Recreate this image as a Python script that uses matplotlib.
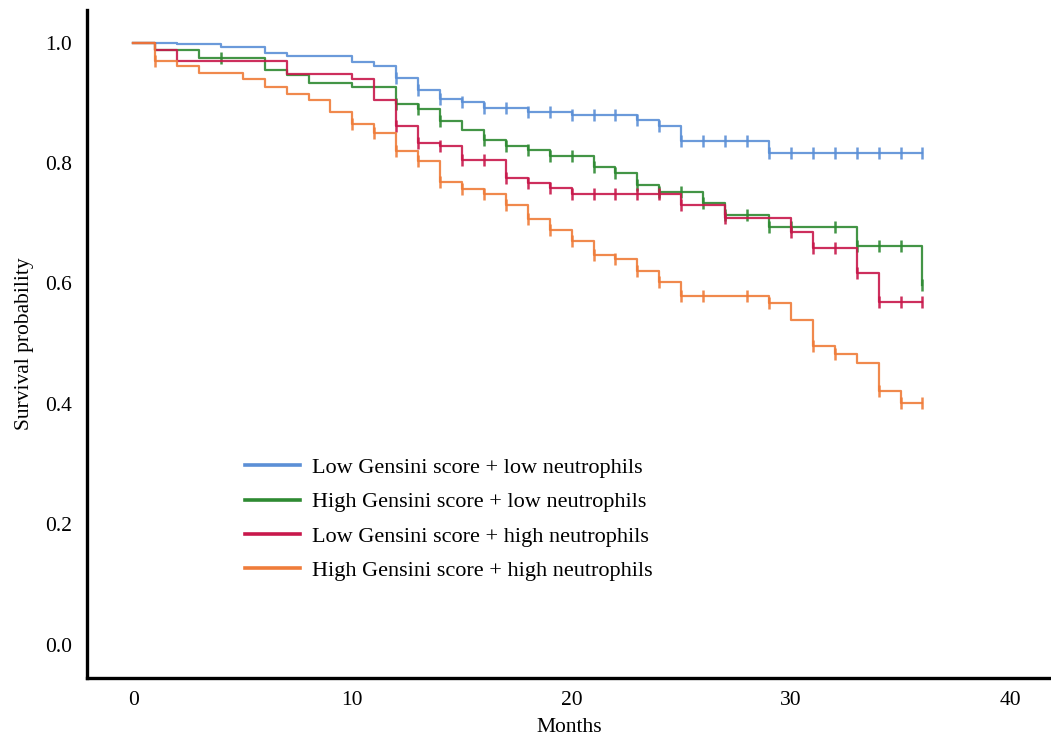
import matplotlib
matplotlib.use('Agg')
import matplotlib.pyplot as plt
import numpy as np

plt.rcParams['font.family'] = ['Liberation Serif', 'DejaVu Serif']

# Kaplan-Meier curves (step times in months, survival after the step)
labels = ['Low Gensini score + low neutrophils',
          'High Gensini score + low neutrophils',
          'Low Gensini score + high neutrophils',
          'High Gensini score + high neutrophils']
colors = ['#5b8fd6', '#2e8a32', '#c8184b', '#ef7c3a']

blue_t = [0, 2, 4, 6, 7, 10, 11, 12, 13, 14, 15, 16, 18, 20, 23, 24, 25, 29, 36]
blue_s = [1.0, 0.997, 0.993, 0.982, 0.977, 0.967, 0.961, 0.941, 0.922, 0.906, 0.901,
          0.891, 0.884, 0.879, 0.872, 0.862, 0.836, 0.817, 0.817]
blue_c = [12, 13, 14, 15, 16, 17, 18, 19, 20, 21, 22, 23, 24, 25, 26, 27, 28, 29,
          30, 31, 32, 33, 34, 35, 36]

green_t = [0, 1, 3, 6, 7, 8, 10, 12, 13, 14, 15, 16, 17, 18, 19, 21, 22, 23, 24,
           26, 27, 29, 33, 36]
green_s = [1.0, 0.988, 0.974, 0.955, 0.946, 0.933, 0.926, 0.898, 0.890, 0.869, 0.854,
           0.838, 0.829, 0.822, 0.812, 0.793, 0.783, 0.764, 0.752, 0.733, 0.714,
           0.693, 0.663, 0.598]
green_c = [4, 12, 13, 14, 16, 17, 18, 19, 20, 21, 22, 23, 24, 25, 26, 27, 28, 29,
           30, 32, 33, 34, 35, 36]

red_t = [0, 1, 2, 7, 10, 11, 12, 13, 14, 15, 17, 18, 19, 20, 25, 27, 30, 31, 33, 34, 36]
red_s = [1.0, 0.988, 0.969, 0.947, 0.939, 0.905, 0.862, 0.834, 0.828, 0.805, 0.775,
         0.766, 0.758, 0.749, 0.731, 0.708, 0.685, 0.659, 0.617, 0.570, 0.570]
red_c = [12, 13, 14, 15, 16, 17, 18, 19, 20, 21, 22, 23, 24, 25, 27, 30, 31, 32,
         33, 34, 35, 36]

orange_t = [0, 1, 2, 3, 5, 6, 7, 8, 9, 10, 11, 12, 13, 14, 15, 16, 17, 18, 19, 20,
            21, 22, 23, 24, 25, 29, 30, 31, 32, 33, 34, 35, 36]
orange_s = [1.0, 0.970, 0.961, 0.950, 0.940, 0.926, 0.915, 0.905, 0.884, 0.865, 0.850,
            0.820, 0.804, 0.768, 0.757, 0.748, 0.730, 0.707, 0.689, 0.670, 0.648,
            0.641, 0.620, 0.602, 0.580, 0.568, 0.539, 0.497, 0.483, 0.468, 0.421,
            0.402, 0.402]
orange_c = [1, 10, 11, 12, 13, 14, 15, 16, 17, 18, 19, 20, 21, 22, 23, 24, 25, 26,
            28, 29, 31, 32, 34, 35, 36]

curvas = [(blue_t, blue_s, blue_c), (green_t, green_s, green_c),
          (red_t, red_s, red_c), (orange_t, orange_s, orange_c)]

fig = plt.figure(figsize=(10.51, 7.41), dpi=100)
ax = fig.add_axes([0.0828, 0.085, 0.9172, 0.9015])

for (t, s, c), cor, nome in zip(curvas, colors, labels):
    ax.step(t, s, where='post', color=cor, lw=1.6, alpha=0.9)
    # valores nos tempos censurados
    idx = np.searchsorted(t, c, side='right') - 1
    sc = np.array(s)[idx]
    ax.plot(c, sc, ls='none', marker='|', ms=8.5, mew=1.8, color=cor, alpha=0.9)
    ax.plot([], [], color=cor, lw=2.6, label=nome)

ax.set_xlim(-2.1, 41.86)
ax.set_ylim(-0.055, 1.054)
ax.set_xticks([0, 10, 20, 30, 40])
ax.set_yticks([0.0, 0.2, 0.4, 0.6, 0.8, 1.0])
ax.set_yticklabels(['0.0', '0.2', '0.4', '0.6', '0.8', '1.0'])
ax.tick_params(length=0, labelsize=15.5)
ax.tick_params(axis='x', pad=9)
ax.tick_params(axis='y', pad=11)

for lado in ['top', 'right']:
    ax.spines[lado].set_visible(False)
for lado in ['left', 'bottom']:
    ax.spines[lado].set_linewidth(2.4)
    ax.spines[lado].set_color('black')

ax.set_xlabel('Months', fontsize=15.5, labelpad=6)
ax.set_ylabel('Survival probability', fontsize=15.5, labelpad=8)

ax.legend(loc='upper left', bbox_to_anchor=(0.164, 0.33), frameon=False,
          fontsize=16, handlelength=2.45, handletextpad=0.58, labelspacing=0.62,
          borderpad=0, borderaxespad=0)

fig.savefig('out.png', dpi=100)
